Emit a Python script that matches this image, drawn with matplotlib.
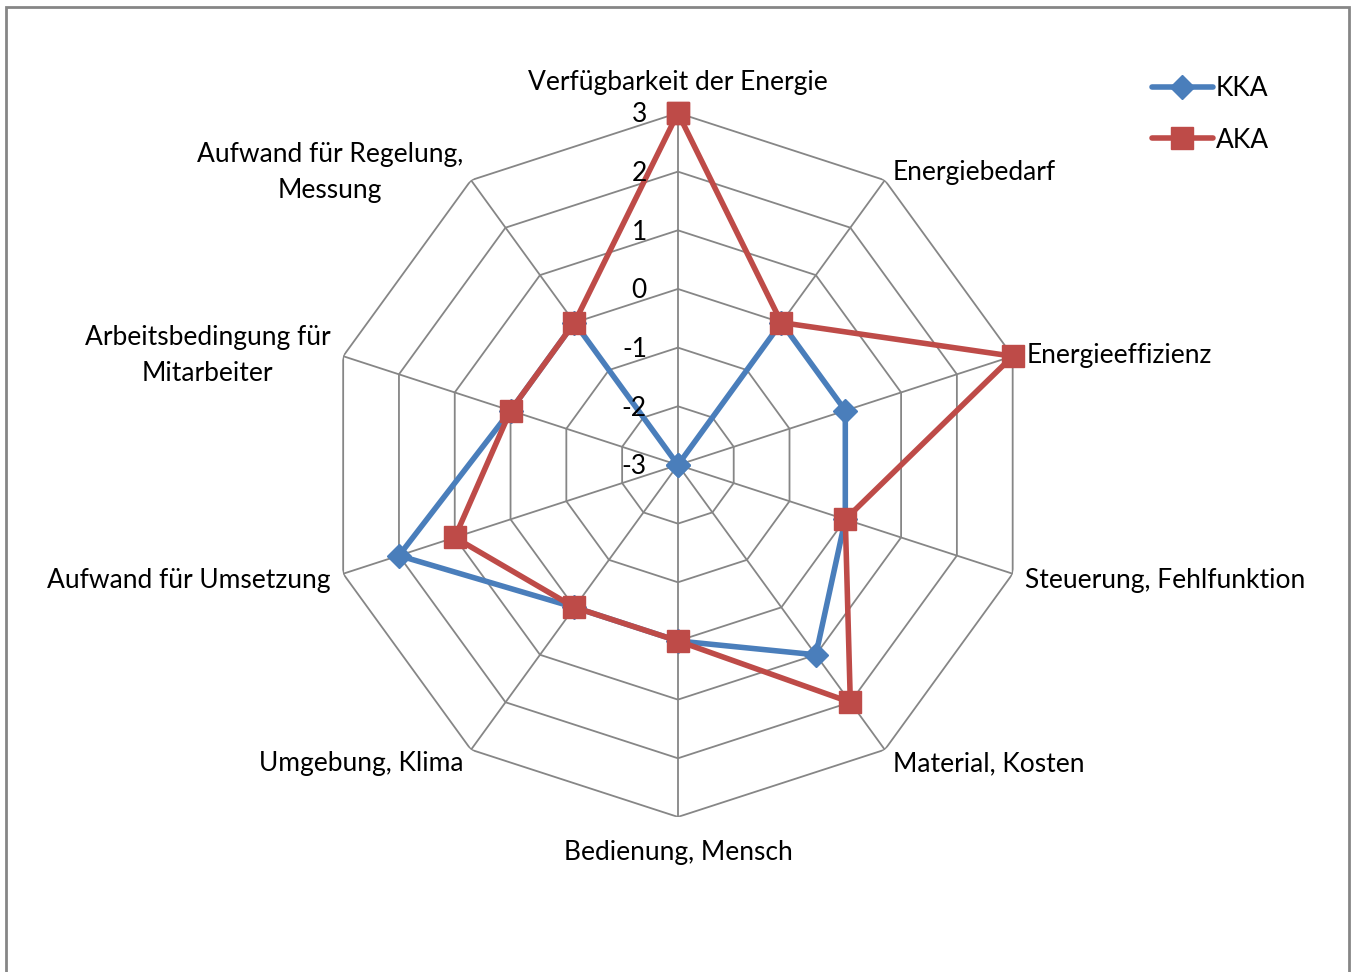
import numpy as np
import matplotlib.pyplot as plt
from matplotlib.patches import Rectangle

# data
categories = [
    "Verfügbarkeit der Energie", "Energiebedarf", "Energieeffizienz",
    "Steuerung, Fehlfunktion", "Material, Kosten", "Bedienung, Mensch",
    "Umgebung, Klima", "Aufwand für Umsetzung",
    "Arbeitsbedingung für\nMitarbeiter", "Aufwand für Regelung,\nMessung",
]
kka = [-3, 0, 0, 0, 1, 0, 0, 2, 0, 0]
aka = [3, 0, 3, 0, 2, 0, 0, 1, 0, 0]
ticks = [-3, -2, -1, 0, 1, 2, 3]

blue = "#4A7EBB"
red = "#BE4B48"
grid_c = "#868686"
fs = 19

plt.rcParams['font.family'] = ['Lato', 'DejaVu Sans']

fig = plt.figure(figsize=(13.53, 9.72), dpi=100)
ax = fig.add_axes([0.2409, 0.1595, 0.5203, 0.7243], projection='polar')
ax.set_theta_zero_location('N')
ax.set_theta_direction(-1)
ax.set_ylim(-3, 3)
ax.grid(False)
ax.set_xticks([])
ax.set_yticks([])
ax.spines['polar'].set_visible(False)
ax.patch.set_visible(False)

n = len(categories)
theta = np.linspace(0, 2 * np.pi, n, endpoint=False)
theta_c = np.append(theta, theta[0])

# polygon grid
for t in ticks[1:]:
    ax.plot(theta_c, [t] * (n + 1), color=grid_c, lw=1.3, zorder=1)
for th in theta:
    ax.plot([th, th], [-3, 3], color=grid_c, lw=1.3, zorder=1)

# series
ax.plot(theta_c, kka + kka[:1], color=blue, lw=4, marker='D', ms=12,
        zorder=3, label='KKA', solid_capstyle='round', clip_on=False)
ax.plot(theta_c, aka + aka[:1], color=red, lw=4, marker='s', ms=15.5,
        zorder=4, label='AKA', solid_capstyle='round', clip_on=False)

# tick labels
for t in ticks:
    ax.annotate(str(t), xy=(0, t), xytext=(-31, -2), textcoords='offset pixels',
                ha='right', va='center', fontsize=fs, zorder=5)

# category labels
align = [
    ('center', (0, 30)),
    ('left', (8, 8)),
    ('left', (14, 1)),
    ('left', (12, -7)),
    ('left', (8, -14)),
    ('center', (0, -36)),
    ('right', (-8, -14)),
    ('right', (-13, -7)),
    ('right', (-13, 1)),
    ('right', (-8, 8)),
]
for th, lab, (ha, off) in zip(theta, categories, align):
    ax.annotate(lab, xy=(th, 3), xytext=off, textcoords='offset pixels',
                ha=ha, va='center', multialignment='center', fontsize=fs,
                linespacing=1.55)

leg = fig.legend(loc='upper left', bbox_to_anchor=(0.834, 0.946),
                 frameon=False, fontsize=fs, handlelength=2.3,
                 handletextpad=0.12, labelspacing=1.0)

fig.patches.append(Rectangle((6 / 1353, -0.01), 1343 / 1353, 1 - 6.5 / 972 + 0.01,
                             transform=fig.transFigure, fill=False,
                             edgecolor=grid_c, lw=2))

fig.savefig('out.png', dpi=100)
